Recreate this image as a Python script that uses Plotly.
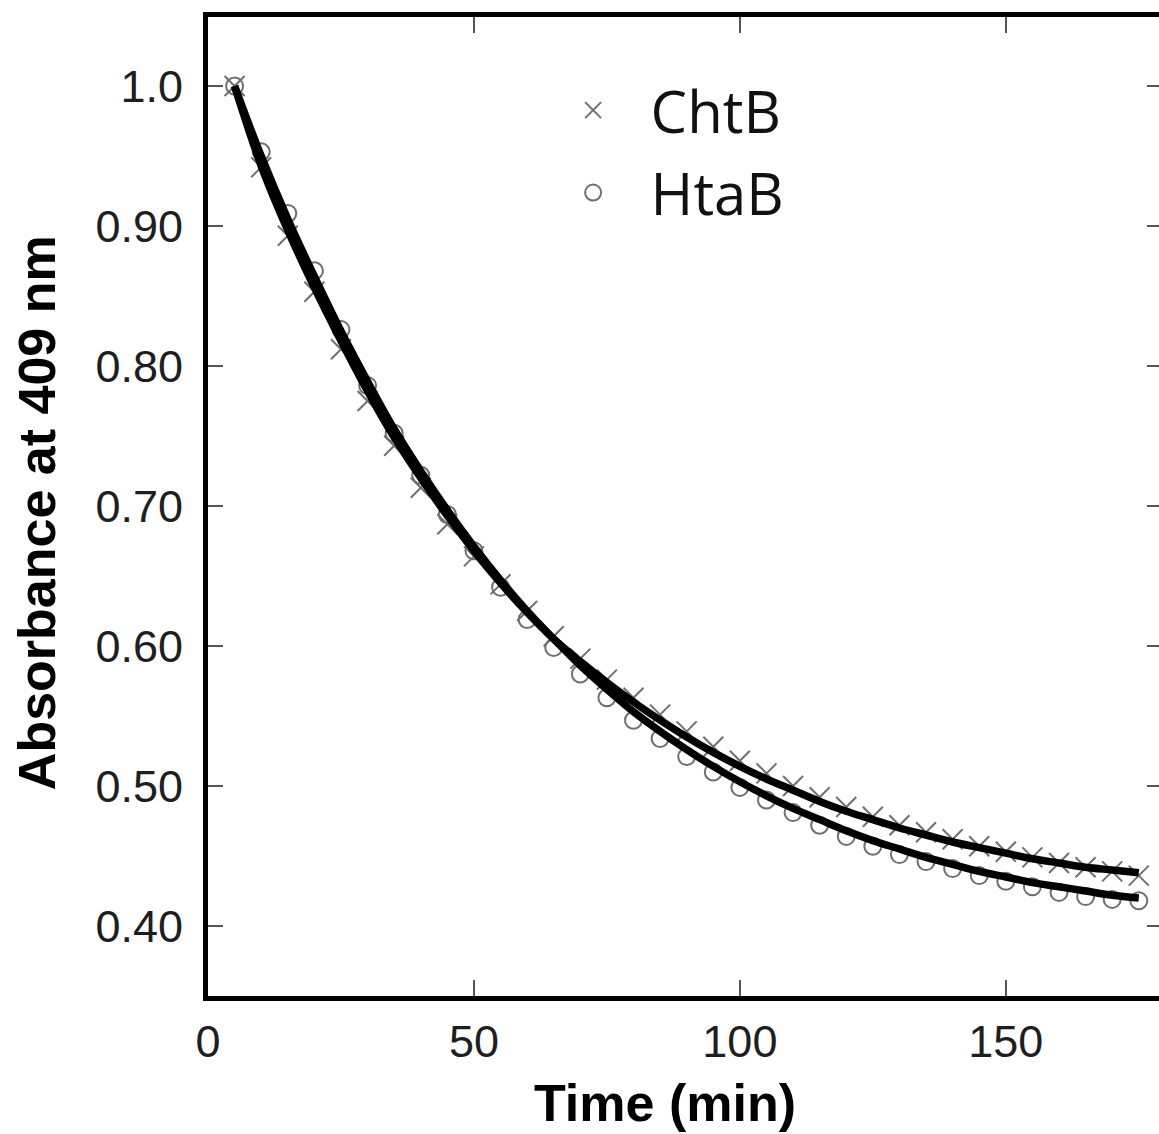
import plotly.graph_objects as go

# Sampling times (min)
time_min = [5, 10, 15, 20, 25, 30, 35, 40, 45, 50, 55, 60, 65, 70, 75, 80, 85,
            90, 95, 100, 105, 110, 115, 120, 125, 130, 135, 140, 145, 150, 155,
            160, 165, 170, 175]

# Measured absorbance at 409 nm
chtb_obs = [1.000, 0.942, 0.893, 0.853, 0.812, 0.775, 0.743, 0.713, 0.687, 0.664,
            0.644, 0.625, 0.607, 0.591, 0.576, 0.563, 0.551, 0.539, 0.528, 0.518,
            0.509, 0.500, 0.492, 0.485, 0.478, 0.472, 0.467, 0.462, 0.457, 0.453,
            0.449, 0.445, 0.442, 0.439, 0.436]
htab_obs = [1.000, 0.953, 0.909, 0.868, 0.826, 0.786, 0.752, 0.722, 0.694, 0.668,
            0.642, 0.619, 0.599, 0.580, 0.563, 0.547, 0.534, 0.521, 0.510, 0.499,
            0.490, 0.481, 0.472, 0.464, 0.457, 0.451, 0.446, 0.441, 0.436, 0.432,
            0.428, 0.424, 0.421, 0.419, 0.418]

# Fitted decay curves
chtb_fit = [1.000, 0.943, 0.897, 0.856, 0.818, 0.782, 0.749, 0.720, 0.693, 0.668,
            0.645, 0.624, 0.605, 0.589, 0.574, 0.560, 0.547, 0.535, 0.524, 0.514,
            0.505, 0.497, 0.489, 0.482, 0.476, 0.470, 0.465, 0.460, 0.456, 0.452,
            0.448, 0.445, 0.442, 0.440, 0.438]
htab_fit = [1.000, 0.950, 0.905, 0.864, 0.825, 0.789, 0.755, 0.725, 0.697, 0.671,
            0.647, 0.625, 0.605, 0.586, 0.569, 0.553, 0.539, 0.526, 0.514, 0.503,
            0.493, 0.484, 0.476, 0.468, 0.461, 0.455, 0.449, 0.444, 0.439, 0.435,
            0.431, 0.428, 0.425, 0.422, 0.420]

y_ticks = [0.40, 0.50, 0.60, 0.70, 0.80, 0.90, 1.0]
y_tick_text = ["0.40", "0.50", "0.60", "0.70", "0.80", "0.90", "1.0"]
x_ticks = [0, 50, 100, 150]

Y_RANGE = [0.35, 1.0493]
X_RANGE = [0, 178.8]
TICK_FONT = dict(family="Liberation Sans, Arial, sans-serif", size=45, color="#1e1e1e")
TITLE_FONT = dict(family="Liberation Sans, Arial, sans-serif", size=52, color="#000000")
MARKER_GREY = "#6f6f6f"

fig = go.Figure()

# Observed points (drawn first so the fits sit on top)
fig.add_trace(go.Scatter(
    x=time_min, y=chtb_obs, mode="markers", name="ChtB", legendgroup="a",
    marker=dict(symbol="x-thin-open", size=20, color=MARKER_GREY,
                line=dict(width=2, color=MARKER_GREY)),
))
fig.add_trace(go.Scatter(
    x=time_min, y=htab_obs, mode="markers", name="HtaB", legendgroup="b",
    marker=dict(symbol="circle-open", size=17, color=MARKER_GREY,
                line=dict(width=2, color=MARKER_GREY)),
))

# Fitted curves
for fit in (chtb_fit, htab_fit):
    fig.add_trace(go.Scatter(
        x=time_min, y=fit, mode="lines", showlegend=False, hoverinfo="skip",
        line=dict(color="#000000", width=7.5, shape="spline"),
    ))

# Carrier for the right-hand tick axis
fig.add_trace(go.Scatter(x=[None], y=[None], yaxis="y2", mode="markers",
                         showlegend=False, hoverinfo="skip"))

fig.update_layout(
    width=1159, height=1134,
    margin=dict(l=208, r=0, t=17, b=138),
    paper_bgcolor="white", plot_bgcolor="white",
    showlegend=True,
    legend=dict(
        x=0.3445, y=0.95, xanchor="left", yanchor="top",
        bgcolor="rgba(0,0,0,0)",
        font=dict(family="Open Sans, Noto Sans, sans-serif", size=58, color="#111111"),
        itemwidth=105, traceorder="grouped", tracegroupgap=4,
    ),
    xaxis=dict(
        range=X_RANGE, tickvals=x_ticks,
        showline=True, linewidth=5, linecolor="black", mirror="ticks",
        ticks="inside", ticklen=16, tickwidth=2, tickcolor="#555555",
        showgrid=False, zeroline=False,
        tickfont=TICK_FONT, ticklabelstandoff=2,
    ),
    yaxis=dict(
        range=Y_RANGE, tickvals=y_ticks, ticktext=y_tick_text,
        showline=True, linewidth=5, linecolor="black", mirror=False,
        ticks="inside", ticklen=15, tickwidth=2, tickcolor="#555555",
        showgrid=False, zeroline=False,
        tickfont=TICK_FONT, ticklabelstandoff=11,
    ),
    yaxis2=dict(
        range=Y_RANGE, tickvals=y_ticks, overlaying="y", side="right", anchor="x",
        showline=False, ticks="inside", ticklen=12, tickwidth=2, tickcolor="#555555",
        showticklabels=False, showgrid=False, zeroline=False,
    ),
    annotations=[
        dict(text="<b>Time (min)</b>", xref="paper", yref="paper",
             x=0.481, y=-0.109, xanchor="center", yanchor="middle",
             showarrow=False, font=TITLE_FONT),
        dict(text="<b>Absorbance at 409 nm</b>", xref="paper", yref="paper",
             x=-0.179, y=0.494, xanchor="center", yanchor="middle",
             textangle=-90, showarrow=False, font=TITLE_FONT),
    ],
)

fig.write_html("out.html")
